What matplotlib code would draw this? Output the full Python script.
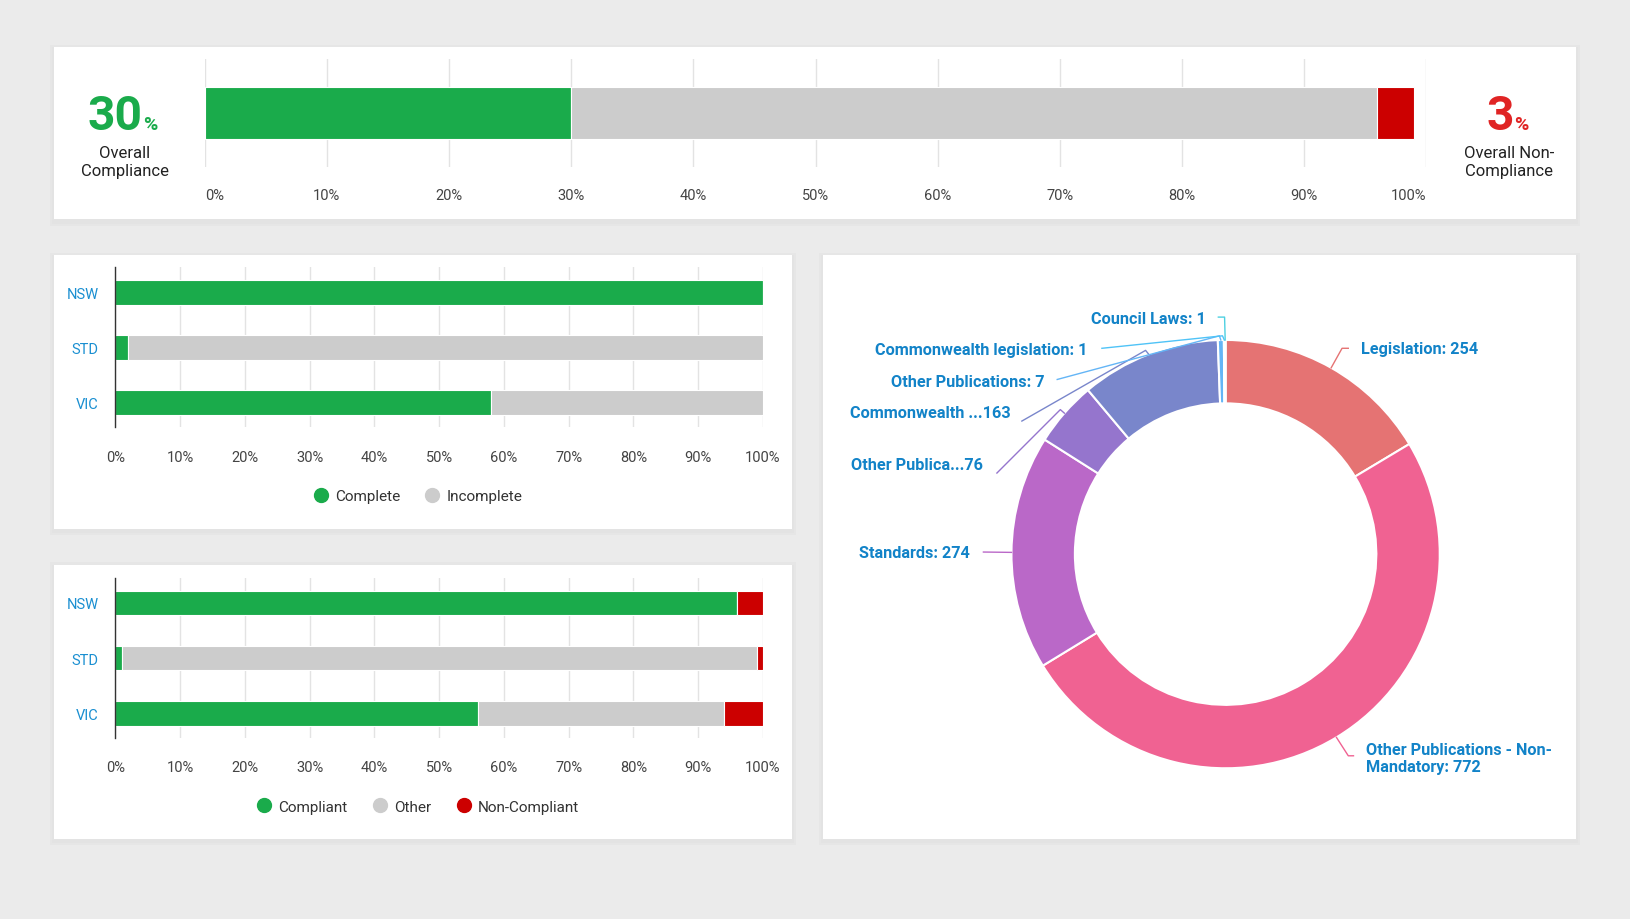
import numpy as np
import matplotlib
matplotlib.use("Agg")
import matplotlib.pyplot as plt
from matplotlib.patches import Rectangle
from matplotlib.lines import Line2D

plt.rcParams['font.family'] = ['Roboto', 'DejaVu Sans']

# ---- data ----
overall_parts = ['Compliant', 'Other', 'Non-Compliant']
overall_values = [30, 66, 3]
overall_compliance = 30
overall_non_compliance = 3

regions = ['NSW', 'STD', 'VIC']
complete = [100, 2, 58]
incomplete = [0, 98, 42]
compliant = [96, 1, 56]
other = [0, 98, 38]
non_compliant = [4, 1, 6]

doc_labels = ['Legislation: 254', 'Other Publications - Non-\nMandatory: 772',
              'Standards: 274', 'Other Publica...76', 'Commonwealth ...163',
              'Other Publications: 7', 'Commonwealth legislation: 1', 'Council Laws: 1']
doc_values = [254, 772, 274, 76, 163, 7, 1, 1]

# ---- styles ----
GREEN = '#1aab4b'
GREY = '#cccccc'
RED = '#cc0000'
BLUE = '#1283c8'
donut_colors = ['#e57373', '#f06292', '#ba68c8', '#9575cd', '#7986cb',
                '#64b5f6', '#4fc3f7', '#4dd0e1']

W0, H0 = 1568, 885  # layout is measured in these pixel units


def rect(x0, y0, x1, y1):
    return [x0 / W0, 1 - y1 / H0, (x1 - x0) / W0, (y1 - y0) / H0]


fig = plt.figure(figsize=(16.3, 9.2), dpi=100, facecolor='#ebebeb')

# cards with a soft shadow
for (x0, y0, x1, y1) in [(52, 46, 1516, 212), (52, 246, 762, 510),
                         (52, 544, 762, 808), (792, 246, 1516, 808)]:
    for k, col in enumerate(['#e6e6e6', '#e3e3e3']):
        g = 4 - 2 * k
        fig.add_artist(Rectangle(((x0 - g) / W0, 1 - (y1 + g + 2) / H0), (x1 - x0 + 2 * g) / W0,
                                 (y1 - y0 + 2 * g) / H0, transform=fig.transFigure,
                                 facecolor=col, edgecolor='none', zorder=0))
    fig.add_artist(Rectangle((x0 / W0, 1 - y1 / H0), (x1 - x0) / W0, (y1 - y0) / H0,
                             transform=fig.transFigure, facecolor='white',
                             edgecolor='none', zorder=0))

ticks = np.arange(0, 101, 10)
tick_labels = [f'{t}%' for t in ticks]

# ---- top overall bar ----
ax = fig.add_axes(rect(197, 58, 1372, 162))
left = 0
for v, c in zip(overall_values, [GREEN, GREY, RED]):
    ax.barh(0, v, left=left, height=0.48, color=c, edgecolor='white', linewidth=0.8, zorder=2)
    left += v
ax.set_xlim(0, 100)
ax.set_ylim(-0.5, 0.5)
ax.set_yticks([])
ax.set_xticks(ticks)
ax.set_xticklabels(tick_labels)
ax.tick_params(axis='x', length=0, pad=15, labelsize=10.5, labelcolor='#444444')
labs = ax.get_xticklabels()
labs[0].set_ha('left')
labs[-1].set_ha('right')
ax.grid(axis='x', color='#e3e3e3', linewidth=1, zorder=0)
for s in ax.spines.values():
    s.set_visible(False)
ax.patch.set_alpha(0)

# big numbers
fig.text(137 / W0, 1 - 125 / H0, f'{overall_compliance}', color=GREEN, fontsize=34.5,
         fontweight='bold', ha='right', va='baseline')
fig.text(138 / W0, 1 - 125 / H0, '%', color=GREEN, fontsize=14, fontweight='bold',
         ha='left', va='baseline')
fig.text(120 / W0, 1 - 156 / H0, 'Overall\nCompliance', color='#222222', fontsize=12,
         ha='center', va='center', linespacing=1.25)
fig.text(1456 / W0, 1 - 125 / H0, f'{overall_non_compliance}', color='#e02424', fontsize=34.5,
         fontweight='bold', ha='right', va='baseline')
fig.text(1457 / W0, 1 - 125 / H0, '%', color='#e02424', fontsize=14, fontweight='bold',
         ha='left', va='baseline')
fig.text(1452 / W0, 1 - 156 / H0, 'Overall Non-\nCompliance', color='#222222', fontsize=12,
         ha='center', va='center', linespacing=1.25)


def stacked(box, series, colors, names, legend_y):
    a = fig.add_axes(rect(*box))
    y = np.arange(len(regions))
    left = np.zeros(len(regions))
    for vals, c in zip(series, colors):
        vals = np.array(vals, dtype=float)
        a.barh(y, vals, left=left, height=0.45, color=c, edgecolor='white',
               linewidth=0.8, zorder=2)
        left += vals
    a.set_xlim(0, 100)
    a.set_ylim(len(regions) - 1 + 0.453, -0.453)
    a.set_yticks(y)
    a.set_yticklabels(regions)
    a.set_xticks(ticks)
    a.set_xticklabels(tick_labels)
    a.tick_params(axis='x', length=0, pad=16, labelsize=10.5, labelcolor='#444444')
    a.tick_params(axis='y', length=0, pad=12, labelsize=10.5, labelcolor='#1a8fd1')
    a.grid(axis='x', color='#e3e3e3', linewidth=1, zorder=0)
    for k, s in a.spines.items():
        s.set_visible(k == 'left')
    a.spines['left'].set_color('#333333')
    a.spines['left'].set_linewidth(1)
    a.spines['left'].set_zorder(3)
    a.patch.set_alpha(0)
    handles = [Line2D([], [], marker='o', linestyle='none', markersize=10,
                      markerfacecolor=c, markeredgecolor=c) for c in colors]
    fig.legend(handles, names, loc='center', bbox_to_anchor=(402 / W0, 1 - legend_y / H0),
               ncol=len(names), frameon=False, fontsize=11, handlelength=1.0,
               handletextpad=0.45, columnspacing=1.6, labelcolor='#333333')
    return a


stacked((111, 258, 734, 412), [complete, incomplete], [GREEN, GREY],
        ['Complete', 'Incomplete'], 478)
stacked((111, 557, 734, 711), [compliant, other, non_compliant], [GREEN, GREY, RED],
        ['Compliant', 'Other', 'Non-Compliant'], 777)

# ---- donut ----
dx0, dy0, dx1, dy1 = 792, 246, 1516, 808
ax3 = fig.add_axes(rect(dx0, dy0, dx1, dy1))
cx, cy, R, width = 1179, H0 - 534, 206, 61
wedges, _ = ax3.pie(doc_values, colors=donut_colors, startangle=90, counterclock=False,
                    radius=R, center=(cx, cy),
                    wedgeprops=dict(width=width, edgecolor='white', linewidth=1.5))
ax3.set_xlim(dx0, dx1)
ax3.set_ylim(H0 - dy1, H0 - dy0)
ax3.set_aspect('auto')
ax3.axis('off')

# label layout: leader points after the anchor, text position, alignment
label_layout = [
    ([(1291, 336), (1297, 336)], (1309, 336), 'left'),
    ([(1297, 728), (1302, 728)], (1314, 730), 'left'),
    ([(946, 532)], (933, 532), 'right'),
    ([(1020, 395), (959, 456)], (946, 448), 'right'),
    ([(1102, 338), (983, 406)], (972, 398), 'right'),
    ([(1173, 324), (1017, 366)], (1005, 368), 'right'),
    ([(1176, 324), (1060, 336)], (1046, 337), 'right'),
    ([(1178, 306), (1172, 306)], (1160, 307), 'right'),
]
for w, lab, c, (pts, tpos, ha) in zip(wedges, doc_labels, donut_colors, label_layout):
    mid = np.deg2rad((w.theta1 + w.theta2) / 2)
    xs = [cx + R * np.cos(mid)] + [p[0] for p in pts]
    ys = [cy + R * np.sin(mid)] + [H0 - p[1] for p in pts]
    ax3.plot(xs, ys, color=c, linewidth=1, zorder=1)
    ax3.text(tpos[0], H0 - tpos[1], lab, color=BLUE, fontsize=11.7, fontweight='bold',
             ha=ha, va='center', linespacing=1.15)

fig.savefig('out.png', dpi=100, facecolor=fig.get_facecolor())
